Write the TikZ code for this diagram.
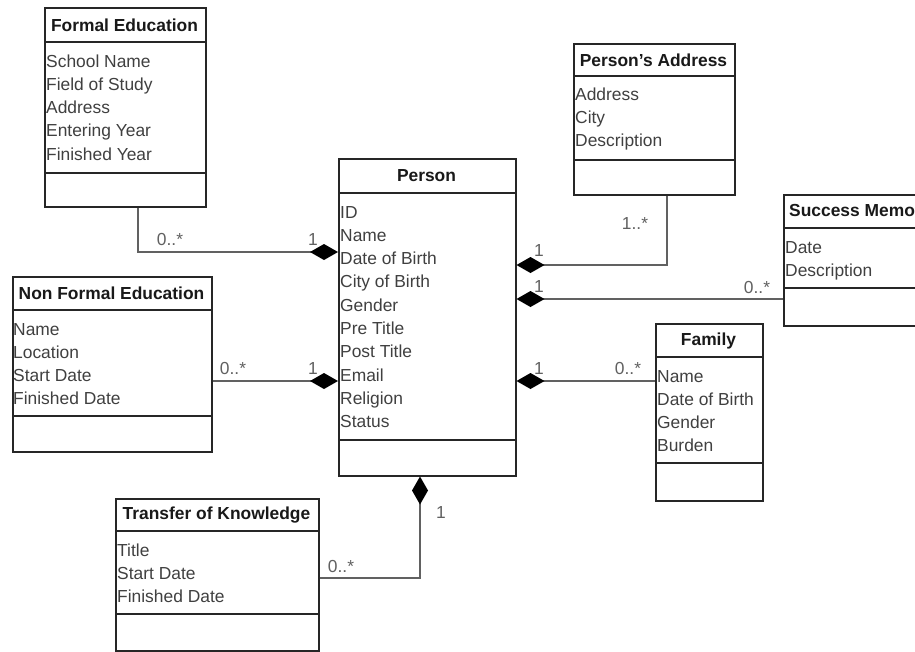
\documentclass[tikz,border=0pt]{standalone}
\usepackage{fontspec}
\setmainfont{Liberation Sans}
\usetikzlibrary{arrows.meta}
\begin{document}
\begin{tikzpicture}[x=1pt,y=-1pt,
  every node/.style={font=\fontsize{17.4}{20}\selectfont},
  cls/.style={draw=black!85, line width=1.5pt, fill=white, inner sep=0pt, anchor=north west},
  sep/.style={draw=black!85, line width=1.5pt},
  ttl/.style={font=\fontsize{17.4}{20}\selectfont\bfseries, text=black!90, inner sep=0pt},
  attr/.style={anchor=base west, inner sep=0pt, text=black!75},
  conn/.style={draw=black!62, line width=1.6pt},
  comp/.style={conn, -{Diamond[length=28pt,width=16pt,color=black,fill=black]}},
  mult/.style={inner sep=0pt, text=black!62}
]
\useasboundingbox (0,0) rectangle (915,651);
\fill[white] (0,0) rectangle (915,651);

% ---------- Formal Education ----------
\node[cls, minimum width=161pt, minimum height=199pt] (fe) at (44,7) {};
\draw[sep] (44,42) -- (205,42);
\draw[sep] (44,173) -- (205,173);
\node[ttl] (fet) at (124.5,25) {Formal Education};
\foreach \t [count=\i] in {School Name,Field of Study,Address,Entering Year,Finished Year}
  \node[attr] (fea\i) at (46,{61+6+23.3*(\i-1)}) {\t};

% ---------- Person's Address ----------
\node[cls, minimum width=161pt, minimum height=151pt] (pa) at (573,43) {};
\draw[sep] (573,76) -- (734,76);
\draw[sep] (573,160) -- (734,160);
\node[ttl] (pat) at (653.5,60) {Person\char39 s Address};
\foreach \t [count=\i] in {Address,City,Description}
  \node[attr] (paa\i) at (575,{94+6+23.3*(\i-1)}) {\t};

% ---------- Person ----------
\node[cls, minimum width=177pt, minimum height=317pt] (person) at (338,158) {};
\draw[sep] (338,193) -- (515,193);
\draw[sep] (338,440) -- (515,440);
\node[ttl] (pt) at (426.5,176) {Person};
\foreach \t [count=\i] in {ID,Name,Date of Birth,City of Birth,Gender,Pre Title,Post Title,Email,Religion,Status}
  \node[attr] (pea\i) at (340,{212+6+23.3*(\i-1)}) {\t};

% ---------- Success Memo ----------
\node[cls, minimum width=150pt, minimum height=131pt] (sm) at (783,194) {};
\draw[sep] (783,228) -- (933,228);
\draw[sep] (783,288) -- (933,288);
\node[ttl, anchor=west] (smt) at (789,211) {Success Memo};
\foreach \t [count=\i] in {Date,Description}
  \node[attr] (sma\i) at (785,{247+6+23*(\i-1)}) {\t};

% ---------- Non Formal Education ----------
\node[cls, minimum width=199pt, minimum height=175pt] (nfe) at (12,276) {};
\draw[sep] (12,310) -- (211,310);
\draw[sep] (12,416) -- (211,416);
\node[ttl] (nfet) at (111.5,293) {Non Formal Education};
\foreach \t [count=\i] in {Name,Location,Start Date,Finished Date}
  \node[attr] (nfea\i) at (13,{329+6+23.3*(\i-1)}) {\t};

% ---------- Family ----------
\node[cls, minimum width=107pt, minimum height=177pt] (fam) at (655,323) {};
\draw[sep] (655,357) -- (762,357);
\draw[sep] (655,463) -- (762,463);
\node[ttl] (famt) at (708.5,341) {Family};
\foreach \t [count=\i] in {Name,Date of Birth,Gender,Burden}
  \node[attr] (fama\i) at (657,{376+6+23.3*(\i-1)}) {\t};

% ---------- Transfer of Knowledge ----------
\node[cls, minimum width=203pt, minimum height=152pt] (tk) at (115,498) {};
\draw[sep] (115,531) -- (318,531);
\draw[sep] (115,614) -- (318,614);
\node[ttl] (tkt) at (216.5,515) {Transfer of Knowledge};
\foreach \t [count=\i] in {Title,Start Date,Finished Date}
  \node[attr] (tka\i) at (117,{550+6+23.3*(\i-1)}) {\t};

% ---------- Connectors ----------
\draw[comp] ([xshift=94pt]fe.south west) |- ([yshift=-94pt]person.north west);
\draw[comp] ([yshift=-105pt]nfe.north east) -- ([yshift=-223pt]person.north west);
\draw[comp] ([xshift=94pt]pa.south west) |- ([yshift=-107pt]person.north east);
\draw[comp] ([yshift=-105pt]sm.north west) -- ([yshift=-141pt]person.north east);
\draw[comp] ([yshift=-58pt]fam.north west) -- ([yshift=-223pt]person.north east);
\draw[comp] ([yshift=-80pt]tk.north east) -| ([xshift=82pt]person.south west);

% ---------- Multiplicities ----------
\node[mult] (m1) at (170,240) {0..*};
\node[mult] (m2) at (313,240) {1};
\node[mult] (m3) at (233,369) {0..*};
\node[mult] (m4) at (313,369) {1};
\node[mult] (m5) at (635,224) {1..*};
\node[mult] (m6) at (539,251) {1};
\node[mult] (m7) at (539,287) {1};
\node[mult] (m8) at (757,288) {0..*};
\node[mult] (m9) at (539,369) {1};
\node[mult] (m10) at (628,369) {0..*};
\node[mult] (m11) at (441,513) {1};
\node[mult] (m12) at (341,567) {0..*};
\end{tikzpicture}
\end{document}
